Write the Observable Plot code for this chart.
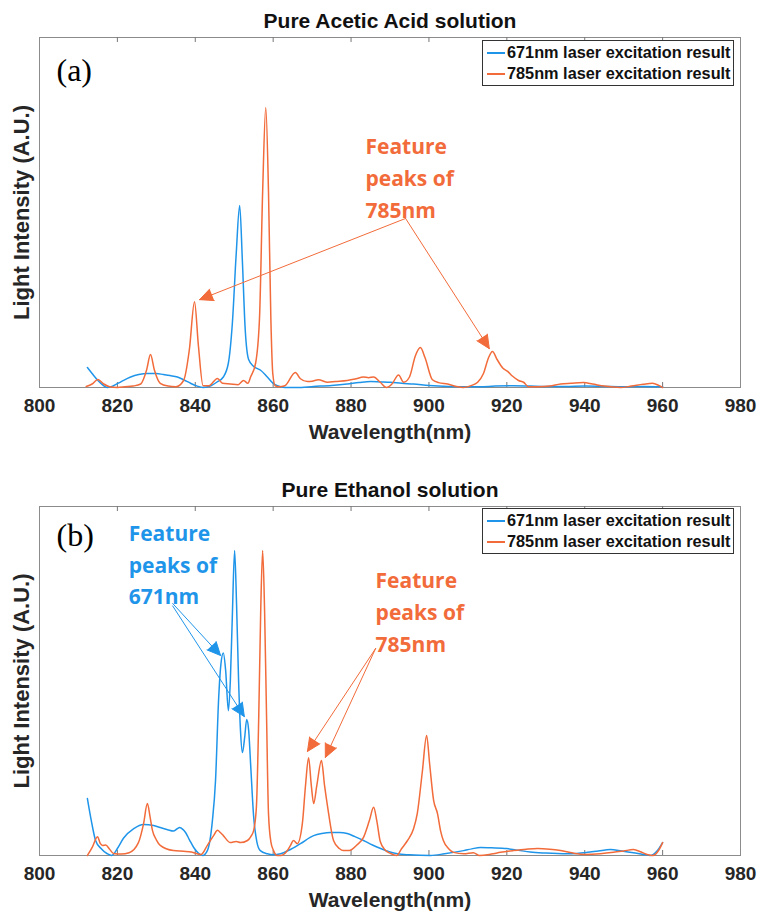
<!DOCTYPE html>
<html>
<head>
<meta charset="utf-8">
<script src="https://cdn.jsdelivr.net/npm/d3@7"></script>
<script src="https://cdn.jsdelivr.net/npm/@observablehq/plot@0.6"></script>
<style>
  body { margin: 0; background: #fff; }
  #root { width: 757px; }
  .panel { position: relative; width: 757px; }
  .legend { position: absolute; background: #fff; border: 1px solid #333; padding: 1px 2px 1px 4px;
            font-family: "Liberation Sans", Arial, sans-serif; font-weight: bold; font-size: 16.3px; color: #111; }
  .legend .row { display: flex; align-items: center; height: 21px; white-space: nowrap; }
  .legend .sw { display: inline-block; width: 18px; height: 0; border-top: 2px solid; margin-right: 2px; }
</style>
</head>
<body>
<div id="root"></div>
<script>
// ---------- data ----------
const xTicks = [800, 820, 840, 860, 880, 900, 920, 940, 960, 980];
const innerTicks = [820, 840, 860, 880, 900, 920, 940, 960];
const seriesNames = ["671nm laser excitation result", "785nm laser excitation result"];
const panelTitles = ["Pure Acetic Acid solution", "Pure Ethanol solution"];
const panelTags = ["(a)", "(b)"];

// Panel (a) – acetic acid, 671 nm
const aWl671 = [812.3,813.5,815,816.5,817.5,819,821,823.4,825.5,827.7,830,831.8,833.5,835.4,837,838.8,840.5,842,844,845.5,847.2,848.5,849.5,850.5,851.4,852.1,852.8,853.7,855,856.7,858.5,860,861.1,863,866,870.4,875,879,882,885,887.6,890,893,896,900,905,910,913,917,921.7,926,930,935,940,945,950,955,960];
const aI671  = [0.057,0.04,0.02,0.005,0,0.005,0.017,0.03,0.037,0.04,0.04,0.037,0.034,0.03,0.022,0.012,0.004,0,0.005,0.015,0.03,0.07,0.18,0.38,0.52,0.36,0.17,0.08,0.06,0.05,0.03,0.012,0.005,0,0,0.003,0.006,0.01,0.014,0.017,0.016,0.015,0.012,0.01,0.006,0.003,0.002,0.002,0.004,0.005,0.004,0.003,0.003,0.004,0.003,0.002,0.003,0.002];
// Panel (a) – acetic acid, 785 nm
const aWl785 = [812,813.5,815,816.5,818,820,822,824,826,827.5,828.5,829.5,831,833,835,837,838.5,839.8,840.8,842,843.5,845.7,847,849,851,852.4,853.5,854.2,855.5,856.5,857.3,858.1,858.8,859.4,859.9,860.5,861.5,863,865.7,867,868.8,870,871.6,874,876,879,881,883.2,884.5,885.8,887.5,889.1,890.5,892.2,893.5,895,896.5,897.8,899,900.9,902.5,904.8,907,908.9,911,912.5,914,915.3,916.3,917.5,919,920.2,921.5,923,924.3,925.6,928,931,933.8,936.5,939.7,942,945,949.2,952,955,957.4,959,960];
const aI785  = [0.003,0.01,0.023,0.01,0.002,0,0.002,0.004,0.01,0.05,0.094,0.05,0.012,0.004,0.002,0.02,0.11,0.245,0.12,0.005,0.005,0.026,0.012,0.01,0.008,0.02,0.012,0.03,0.07,0.2,0.56,0.8,0.56,0.2,0.04,0.005,0.002,0.005,0.043,0.025,0.017,0.018,0.022,0.015,0.017,0.02,0.024,0.03,0.028,0.03,0.015,0,0.01,0.036,0.015,0.03,0.09,0.114,0.085,0.022,0.014,0.01,0.003,0,0.006,0.015,0.04,0.085,0.103,0.08,0.055,0.046,0.032,0.02,0.015,0.002,0.002,0.004,0.01,0.012,0.014,0.01,0.004,0,0.004,0.009,0.012,0.006,0];

// Panel (b) – ethanol, 671 nm
const bWl671 = [812.3,813.3,814.4,815.8,817.4,818.5,820,821.6,824.2,826.7,829.3,831,832.9,834.4,835.3,836,836.8,837.5,838.5,839.6,840.7,841.9,843.1,844.4,845.2,846,846.6,847.2,847.8,848.5,849,849.5,850.1,850.6,851.1,851.6,852.1,852.7,853.2,853.7,854.2,855,855.8,856.7,858.5,860,861.9,864,867,870.4,872.5,874.7,877,879,881,883.2,885.5,887.6,889.8,891.9,895,900.4,904,908.9,911,913.2,916,920,923,926,930,935.5,938,940.7,943.5,946.6,949.5,952.5,955,956.9,958.5,960];
const bI671  = [0.163,0.1,0.043,0.02,0.005,0,0.02,0.05,0.077,0.089,0.086,0.08,0.074,0.07,0.076,0.08,0.075,0.066,0.045,0.023,0.008,0,0.014,0.1,0.215,0.45,0.55,0.58,0.53,0.415,0.5,0.68,0.874,0.72,0.51,0.36,0.295,0.34,0.39,0.36,0.264,0.11,0.04,0.014,0.005,0.002,0.005,0.015,0.034,0.057,0.063,0.066,0.066,0.063,0.054,0.043,0.03,0.02,0.011,0.005,0.002,0,0.005,0.014,0.019,0.023,0.022,0.02,0.015,0.01,0.007,0.005,0.006,0.009,0.013,0.017,0.013,0.008,0.003,0,0.012,0.037];
// Panel (b) – ethanol, 785 nm
const bWl785 = [812.3,813.6,814.9,815.6,816.2,817,818,819,821,823,825.4,826.7,827.7,828.4,829,830,831,834.4,837,839,841.5,843.1,844.7,845.7,846.5,847.2,849,850.5,851.6,853.4,854.3,855,855.7,856.3,856.8,857.3,857.8,858.3,858.8,859.4,860.1,861,862,863.5,864.5,865.2,866.2,867.5,868.3,869.1,869.8,870.4,871.2,872.4,873.2,874,875.5,877,878,879.5,881.5,883.2,884.7,885.8,886.6,887.5,888.8,890.1,891.7,893,894.5,896,897,898.3,899.4,900.2,901.2,902.2,903,903.7,905,906.3,909,911.4,913,916,918.4,921.7,925,927.9,931,933.8,937,940,944,947.4,950,952.5,954.5,956,957.5,959,960];
const bI785  = [0,0.025,0.054,0.035,0.029,0.03,0.018,0.006,0.004,0.008,0.037,0.09,0.149,0.11,0.072,0.045,0.029,0.014,0.012,0.01,0.003,0.029,0.057,0.072,0.065,0.057,0.037,0.04,0.037,0.043,0.055,0.072,0.14,0.4,0.7,0.874,0.7,0.4,0.12,0.04,0.014,0,0,0.012,0.03,0.043,0.034,0.092,0.2,0.28,0.2,0.149,0.2,0.272,0.2,0.138,0.043,0.02,0.014,0.014,0.03,0.052,0.1,0.138,0.1,0.04,0.015,0.006,0,0.02,0.043,0.075,0.12,0.24,0.344,0.26,0.158,0.12,0.07,0.043,0.02,0.009,0.005,0.008,0,0.004,0.009,0.014,0.018,0.02,0.018,0.014,0.007,0.003,0.005,0.009,0.013,0.017,0.01,0.003,0,0.015,0.037];

// annotations (data coordinates: nm, intensity)
const aNotes = [{x: 883.7, y: 0.606, label: "Feature\npeaks of\n785nm", c: 1}];
const aArrows = [
  {x1: 894.0, y1: 0.483, x2: 841.1, y2: 0.251, c: 1},
  {x1: 894.0, y1: 0.483, x2: 915.5, y2: 0.111, c: 1}
];
const bNotes = [
  {x: 822.9, y: 0.84, label: "Feature\npeaks of\n671nm", c: 0},
  {x: 886.3, y: 0.705, label: "Feature\npeaks of\n785nm", c: 1}
];
const bArrows = [
  {x1: 834.2, y1: 0.722, x2: 846.5, y2: 0.573, c: 0},
  {x1: 834.2, y1: 0.715, x2: 852.6, y2: 0.398, c: 0},
  {x1: 886.3, y1: 0.593, x2: 868.8, y2: 0.298, c: 1},
  {x1: 886.3, y1: 0.593, x2: 873.4, y2: 0.281, c: 1}
];

// ---------- rendering ----------
const COLORS = ["#1f95ea", "#f26b3a"];
const SANS = "Liberation Sans, Arial, Helvetica, sans-serif";
const NOTE_FONT = "Open Sans, Noto Sans, sans-serif";
const table = (wl, v) => wl.map((w, i) => ({wl: w, v: v[i]}));

function panel({title, tag, s671, s785, notes, arrows, height, marginTop, marginBottom, tagDy, legendTop}) {
  const frameH = height - marginTop - marginBottom;
  const plot = Plot.plot({
    width: 757, height, marginLeft: 39, marginRight: 17, marginTop, marginBottom,
    style: {fontFamily: SANS, background: "#fff", overflow: "visible"},
    x: {domain: [800, 980], axis: null},
    y: {domain: [0, 1], axis: null},
    marks: [
      Plot.frame({stroke: "#8c8c8c", strokeWidth: 1}),
      Plot.ruleX(innerTicks, {x: d => d, insetTop: frameH - 5, stroke: "#777"}),
      Plot.ruleX(innerTicks, {x: d => d, insetBottom: frameH - 5, stroke: "#777"}),
      Plot.axisX({ticks: xTicks, tickSize: 0, tickPadding: 11, tickFormat: d => String(d),
                  fontSize: 19, fontWeight: "bold", fill: "#262626"}),
      Plot.text(["Wavelength(nm)"], {text: d => d, frameAnchor: "bottom", dy: 45, lineAnchor: "middle",
                  fontSize: 21, fontWeight: "bold", fill: "#262626"}),
      Plot.text(["Light Intensity (A.U.)"], {text: d => d, frameAnchor: "left", dx: -18, rotate: -90,
                  lineAnchor: "middle", textAnchor: "middle", fontSize: 22, fontWeight: "bold", fill: "#262626"}),
      Plot.text([title], {text: d => d, frameAnchor: "top", dy: -16, lineAnchor: "middle",
                  fontSize: 21, fontWeight: "bold", fill: "#111"}),
      Plot.text([tag], {text: d => d, frameAnchor: "top-left", dx: 17, dy: tagDy, textAnchor: "start",
                  lineAnchor: "middle", fontSize: 32, fontFamily: "Liberation Serif, Times New Roman, serif", fill: "#000"}),
      Plot.line(s671, {x: "wl", y: "v", stroke: COLORS[0], strokeWidth: 1.5, curve: "monotone-x"}),
      Plot.line(s785, {x: "wl", y: "v", stroke: COLORS[1], strokeWidth: 1.5, curve: "monotone-x"}),
      ...arrows.map(a => Plot.arrow([a], {x1: "x1", y1: "y1", x2: "x2", y2: "y2",
                  stroke: COLORS[a.c], fill: COLORS[a.c], strokeWidth: 1, headLength: 22, headAngle: 50})),
      ...notes.map(n => Plot.text([n], {x: "x", y: "y", text: "label", textAnchor: "start", lineAnchor: "middle",
                  lineHeight: 1.52, fontSize: 21, fontWeight: "bold", fontFamily: NOTE_FONT, fill: COLORS[n.c]}))
    ]
  });
  const wrap = document.createElement("div");
  wrap.className = "panel";
  wrap.appendChild(plot);
  const leg = document.createElement("div");
  leg.className = "legend";
  leg.style.left = "482px";
  leg.style.top = legendTop + "px";
  seriesNames.forEach((name, i) => {
    const row = document.createElement("div");
    row.className = "row";
    const sw = document.createElement("span");
    sw.className = "sw";
    sw.style.borderTopColor = COLORS[i];
    row.appendChild(sw);
    row.appendChild(document.createTextNode(name));
    leg.appendChild(row);
  });
  wrap.appendChild(leg);
  return wrap;
}

const root = document.getElementById("root");
root.appendChild(panel({title: panelTitles[0], tag: panelTags[0], s671: table(aWl671, aI671), s785: table(aWl785, aI785),
  notes: aNotes, arrows: aArrows, height: 456, marginTop: 37, marginBottom: 69, tagDy: 33, legendTop: 40}));
root.appendChild(panel({title: panelTitles[1], tag: panelTags[1], s671: table(bWl671, bI671), s785: table(bWl785, bI785),
  notes: bNotes, arrows: bArrows, height: 457, marginTop: 50, marginBottom: 58, tagDy: 29, legendTop: 52}));
</script>
</body>
</html>
